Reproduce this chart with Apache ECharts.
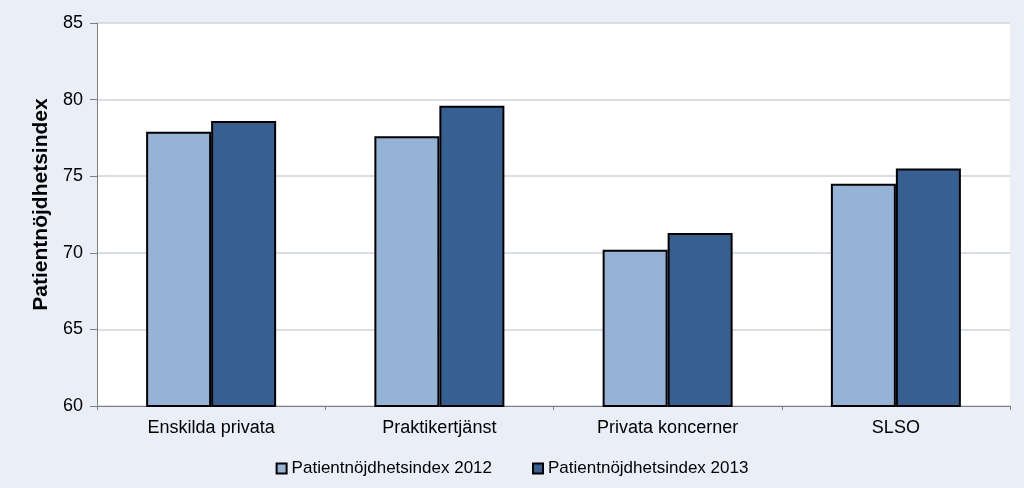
<!DOCTYPE html>
<html><head><meta charset="utf-8">
<script src="https://cdn.jsdelivr.net/npm/echarts@6/dist/echarts.min.js"></script>
<style>html,body{margin:0;padding:0;background:#EAEEF6}#c{width:1024px;height:488px}</style>
</head><body><div id="c"></div>
<script>
const categories = ['Enskilda privata', 'Praktikertjänst', 'Privata koncerner', 'SLSO'];
const series2012 = [77.9, 77.6, 70.2, 74.5];
const series2013 = [78.6, 79.6, 71.3, 75.5];
const seriesNames = ['Patientnöjdhetsindex 2012', 'Patientnöjdhetsindex 2013'];
const yAxisTitle = 'Patientnöjdhetsindex';

const chart = echarts.init(document.getElementById('c'));
const font = 'Liberation Sans, Arial, sans-serif';
chart.setOption({
  backgroundColor: '#EAEEF6',
  animation: false,
  grid: { left: 97, right: 14, top: 23, bottom: 82, show: true, backgroundColor: '#ffffff', borderWidth: 0 },
  legend: {
    bottom: 6, left: 'center', itemWidth: 10, itemHeight: 10, itemGap: 40,
    textStyle: { fontFamily: font, fontSize: 17, color: '#000' },
    data: seriesNames.map(n => ({ name: n, icon: 'rect' }))
  },
  xAxis: {
    type: 'category', data: categories,
    axisLine: { lineStyle: { color: '#808080', width: 1 } },
    axisTick: { show: true, length: 4, lineStyle: { color: '#808080' } },
    axisLabel: { fontFamily: font, fontSize: 18, color: '#000', margin: 13 }
  },
  yAxis: {
    type: 'value', min: 60, max: 85, interval: 5,
    name: yAxisTitle, nameLocation: 'middle', nameGap: 44,
    nameTextStyle: { fontFamily: font, fontSize: 21, fontWeight: 'bold', color: '#000', padding: [0, 0, 0, 20] },
    axisLine: { show: true, lineStyle: { color: '#808080', width: 1 } },
    axisTick: { show: true, length: 7, lineStyle: { color: '#808080' } },
    axisLabel: { fontFamily: font, fontSize: 18, color: '#000', margin: 14 },
    splitLine: { lineStyle: { color: '#D9DEE8', width: 2 } }
  },
  series: [
    { name: seriesNames[0], type: 'bar', data: series2012, barWidth: 65, barGap: '0%',
      itemStyle: { color: '#95B3D7', borderColor: '#000000', borderWidth: 2 } },
    { name: seriesNames[1], type: 'bar', data: series2013, barWidth: 65, barGap: '0%',
      itemStyle: { color: '#366092', borderColor: '#000000', borderWidth: 2 } }
  ]
});
</script></body></html>
